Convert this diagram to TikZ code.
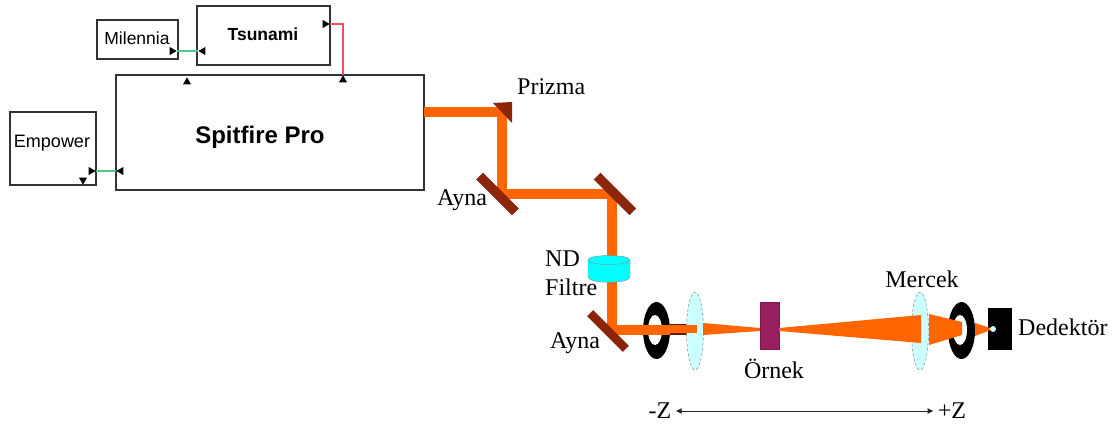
\documentclass[tikz,border=0pt]{standalone}
\usepackage{fontspec}
\setmainfont{Liberation Serif}
\setsansfont{Liberation Sans}
\usetikzlibrary{arrows.meta,shapes.geometric,positioning}
\definecolor{beamc}{HTML}{FF6600}
\definecolor{mirrorc}{HTML}{8E2408}
\definecolor{lensc}{HTML}{CCFFFF}
\definecolor{samplec}{HTML}{99205F}
\definecolor{filterc}{HTML}{00FFFF}
\definecolor{greenl}{HTML}{4FC98C}
\definecolor{redl}{HTML}{F4505F}
\tikzset{
	unit/.style={draw=black!80, line width=1.7pt, inner sep=0pt, font=\sffamily},
	port/.style={isosceles triangle, isosceles triangle stretches, fill=black, inner sep=0pt, minimum height=7pt, minimum width=8pt},
	mirror/.style={fill=mirrorc, draw=mirrorc!80!black, inner sep=0pt, minimum width=50pt, minimum height=9pt, rotate=-45},
	lens/.style={ellipse, draw=black!55, densely dashed, fill=lensc, inner sep=0pt, minimum width=17pt, minimum height=78pt},
	ringo/.style={ellipse, fill=black, inner sep=0pt, minimum width=27pt, minimum height=57pt},
	ringi/.style={ellipse, fill=white, inner sep=0pt, minimum width=14pt, minimum height=30pt},
	beam/.style={draw=beamc, line width=10pt, line join=miter},
	lbl/.style={font=\fontsize{24}{26}\selectfont, inner sep=0pt}
}
\begin{document}
\begin{tikzpicture}[x=1pt, y=-1pt, auto]
			\useasboundingbox (0,0) rectangle (1117,428);

			\node [unit, minimum width=81pt, minimum height=39pt] (milennia) at (137.5, 39.5) {};
			\node [unit, minimum width=133pt, minimum height=59pt] (tsunami) at (263.5, 35.5) {};
			\node [unit, minimum width=308pt, minimum height=115pt] (spitfire) at (270, 132.5) {};
			\node [unit, minimum width=86pt, minimum height=73pt] (empower) at (53, 148.5) {};
			\node [font=\sffamily\fontsize{17.5}{20}\selectfont] (milenniat) at (137, 38) {Milennia};
			\node [font=\sffamily\bfseries\fontsize{17.5}{20}\selectfont] (tsunamit) at (263, 34) {Tsunami};
			\node [font=\sffamily\bfseries\fontsize{24}{28}\selectfont] (spitfiret) at (260, 137) {Spitfire Pro};
			\node [font=\sffamily\fontsize{18}{20}\selectfont] (empowert) at (52, 143) {Empower};

			\node [port] (milport) at (172, 51) {};
			\node [port, shape border rotate=180] (tsuportl) at (203, 51) {};
			\node [port] (tsuportr) at (325, 24) {};
			\node [port, shape border rotate=90] (spitportr) at (343, 80) {};
			\node [port, shape border rotate=90] (spitportl) at (187, 82) {};
			\node [port] (empport) at (91, 171) {};
			\node [port, shape border rotate=180] (spitportb) at (121, 171) {};
			\node [port, shape border rotate=270] (empportb) at (83, 180) {};

			\draw [-, greenl, line width=1.5pt] (milport) to (tsuportl);
			\draw [-, greenl, line width=1.5pt] (empport) to (spitportb);
			\draw [-, redl, line width=1.5pt] (tsuportr) -| (spitportr);

			\node [ringo] (ringa) at (656.5, 330.5) {};
			\node [ringi] (holea) at (655, 330) {};
			\node [ringo] (ringb) at (961.5, 330.5) {};
			\node [ringi] (holeb) at (960, 330) {};

			\coordinate (beamstart) at (424, 112);
			\coordinate (prism) at (502, 112);
			\coordinate (turna) at (502, 194);
			\coordinate (turnb) at (611.5, 194);
			\coordinate (turnc) at (611.5, 330);
			\coordinate (rodend) at (670, 330);
			\draw [beam] (beamstart) -- (prism) -- (turna) -- (turnb) -- (turnc) -- (rodend);
			\draw [-, draw=mirrorc!70!black, line width=11pt] (670, 329) -- (687, 329);

			\node [mirror] (aynaa) at (497.5, 194) {};
			\node [mirror] (aynab) at (615, 194) {};
			\node [mirror, minimum height=8pt] (aynac) at (608, 331) {};
			\fill [mirrorc] (493, 103) -- (512, 102) -- (512, 123) -- cycle;

			\draw [draw=black!45, fill=filterc] (588, 260) .. controls (588, 254) and (630, 254) .. (630, 260) -- (630, 277) .. controls (630, 284) and (588, 284) .. (588, 277) -- cycle;
			\draw [draw=black!45] (588, 260) .. controls (588, 266) and (630, 266) .. (630, 260);

			\node [lens] (lensa) at (695, 331) {};
			\draw [beam, line width=8.5pt] (668, 329) -- (697, 329);
			\fill [beamc] (703, 323) -- (760, 328) -- (760, 331) -- (703, 335) -- cycle;
			\node [fill=samplec, draw=samplec!80!black, inner sep=0pt, minimum width=19pt, minimum height=47pt] (sample) at (769.5, 325.5) {};
			\node [lens] (lensb) at (920, 331) {};
			\fill [beamc] (779, 328) -- (921, 315) -- (921, 343) -- (779, 331) -- cycle;
			\fill [beamc] (929, 314) -- (962, 322) -- (962, 335) -- (929, 345) -- cycle;
			\node [fill=black, inner sep=0pt, minimum width=24pt, minimum height=42pt] (detector) at (1000, 329) {};
			\fill [beamc] (975, 323) -- (993, 329) -- (975, 336) -- cycle;
			\node [circle, fill=lensc, inner sep=0pt, minimum size=6pt] (aperture) at (993, 329) {};

			\node [lbl, anchor=west] (prizma) at (517, 87) {Prizma};
			\node [lbl, anchor=west] (aynaal) at (437, 200) {Ayna};
			\node [lbl, anchor=west] (ndl) at (545, 259) {ND};
			\node [lbl, anchor=west] (filtrel) at (545, 287) {Filtre};
			\node [lbl, anchor=west] (aynacl) at (550, 343) {Ayna};
			\node [lbl] (ornek) at (774, 369) {Örnek};
			\node [lbl] (mercek) at (922, 279) {Mercek};
			\node [lbl, anchor=west] (dedektor) at (1018, 327) {Dedektör};
			\node [lbl, inner sep=4pt] (zminus) at (660, 411) {-Z};
			\node [lbl, inner sep=4pt] (zplus) at (952, 411) {+Z};

			\draw [{Latex[length=6pt,width=6pt]}-{Latex[length=6pt,width=6pt]}, black!85, line width=1pt] (zminus) to (zplus);
		\end{tikzpicture}
\end{document}
